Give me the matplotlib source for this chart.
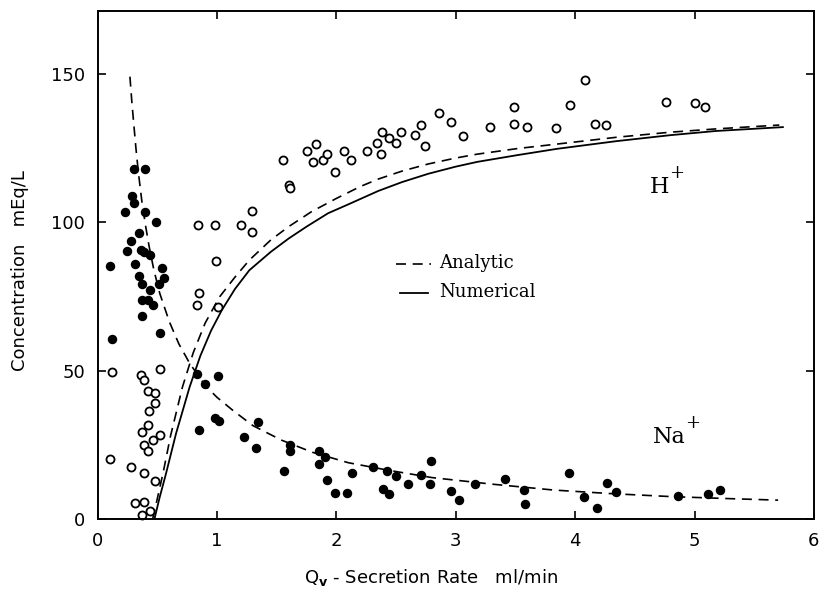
import matplotlib
matplotlib.use("Agg")
import matplotlib.pyplot as plt

# open circles, H+
h_x = [0.117, 0.364, 0.39, 0.52, 0.425, 0.48, 0.48, 0.43, 0.42, 0.37, 0.46, 0.52, 0.386, 0.42,
       0.10, 0.28, 0.386, 0.48, 0.31, 0.386, 0.37, 0.44,
       0.836, 0.85, 1.01, 0.99, 0.84, 0.98, 1.20, 1.29, 1.29, 1.55, 1.60, 1.61,
       1.75, 1.825, 1.80, 1.89, 1.92, 1.99, 2.06, 2.12, 2.26, 2.34, 2.375, 2.38, 2.44, 2.50,
       2.54, 2.66, 2.71, 2.74, 2.86, 2.96, 3.06, 3.29, 3.49, 3.49, 3.60, 3.84, 3.96, 4.08,
       4.17, 4.26, 4.76, 5.00, 5.09]
h_y = [49.6, 48.4, 46.7, 50.4, 43.2, 42.5, 39.2, 36.4, 31.8, 29.3, 26.7, 28.2, 25.0, 23.1,
       20.4, 17.5, 15.7, 12.7, 5.5, 5.7, 1.5, 2.6,
       72.0, 76.0, 71.4, 86.8, 99.2, 99.2, 99.1, 103.6, 96.6, 120.9, 112.5, 111.5,
       123.8, 126.3, 120.2, 120.9, 123.0, 116.8, 123.9, 120.9, 123.9, 126.5, 122.9, 130.3, 128.4, 126.7,
       130.5, 129.5, 132.6, 125.6, 136.6, 133.6, 128.9, 132.1, 138.7, 133.2, 131.9, 131.8, 139.6, 147.7,
       132.9, 132.8, 140.4, 140.2, 138.8]

# filled circles, Na+
na_x = [0.30, 0.40, 0.29, 0.30, 0.23, 0.40, 0.49, 0.35, 0.275, 0.244, 0.36, 0.386, 0.44, 0.10,
        0.31, 0.54, 0.35, 0.555, 0.37, 0.51, 0.44, 0.37, 0.425, 0.46, 0.37, 0.52, 0.117,
        0.836, 1.005, 0.90, 0.98, 1.02, 1.34, 1.225, 0.85, 1.33, 1.56, 1.61, 1.61, 1.85, 1.905,
        1.85, 1.92, 1.99, 2.09, 2.13, 2.31, 2.42, 2.50, 2.39, 2.44, 2.60, 2.71, 2.79, 2.78, 2.96,
        3.03, 3.16, 3.41, 3.57, 3.58, 3.95, 4.07, 4.18, 4.27, 4.34, 4.86, 5.11, 5.21]
na_y = [117.8, 117.8, 108.7, 106.3, 103.5, 103.5, 100.0, 96.4, 93.6, 90.3, 90.6, 90.0, 88.8, 85.2,
        86.0, 84.5, 81.8, 81.1, 79.3, 79.1, 77.2, 73.8, 73.8, 72.2, 68.5, 62.7, 60.6,
        49.0, 48.1, 45.6, 34.2, 33.1, 32.8, 27.8, 29.9, 24.0, 16.1, 25.0, 22.9, 22.8, 21.0,
        18.5, 13.2, 8.8, 8.8, 15.6, 17.7, 16.1, 14.4, 10.0, 8.5, 12.0, 14.9, 19.5, 11.9, 9.5,
        6.4, 11.7, 13.6, 9.8, 5.2, 15.4, 7.6, 3.8, 12.2, 9.1, 7.7, 8.4, 9.7]

# curves
na_an_x = [0.27, 0.285, 0.30, 0.32, 0.34, 0.37, 0.40, 0.43, 0.47, 0.52, 0.60, 0.68, 0.77, 0.90,
           1.0, 1.13, 1.3, 1.54, 1.8, 2.1, 2.43, 2.8, 3.3, 3.82, 4.3, 4.8, 5.3, 5.7]
na_an_y = [149, 141, 134, 125, 117, 107, 99, 92, 84, 76, 66.5, 59, 52.5, 45,
           41, 36.7, 31.5, 26.6, 22.5, 19, 16.5, 14, 11.8, 9.8, 8.6, 7.6, 6.9, 6.4]

h_an_x = [0.46, 0.50, 0.55, 0.61, 0.71, 0.80, 0.90, 1.02, 1.15, 1.27, 1.45, 1.60, 1.79, 2.0,
          2.2, 2.35, 2.55, 2.77, 3.0, 3.18, 3.52, 3.85, 4.35, 4.8, 5.18, 5.71]
h_an_y = [0, 7, 16, 28, 44.5, 56, 66, 74.8, 81.5, 87.2, 94, 98.5, 103.5, 108,
          112, 114.5, 117.2, 119.6, 121.6, 122.9, 124.8, 126.3, 128.6, 130.3, 131.4, 132.7]

h_num_x = [0.475, 0.52, 0.57, 0.656, 0.77, 0.86, 0.95, 1.04, 1.15, 1.27, 1.45, 1.60, 1.75, 1.93,
           2.1, 2.35, 2.55, 2.77, 3.0, 3.18, 3.52, 3.85, 4.35, 4.8, 5.18, 5.74]
h_num_y = [0, 7.5, 15, 28.8, 44.5, 55, 63.5, 70.4, 77.5, 83.8, 90, 94.5, 98.5, 103,
           106, 110.5, 113.5, 116.3, 118.7, 120.3, 122.6, 124.7, 127.3, 129.3, 130.7, 132]

xticks = [0, 1, 2, 3, 4, 5, 6]
yticks = [0, 50, 100, 150]

plt.rcParams["font.family"] = "DejaVu Sans"

fig = plt.figure(figsize=(8.28, 5.94), dpi=100)
ax = fig.add_axes([0.118, 0.126, 0.865, 0.855])

ax.plot(na_an_x, na_an_y, color="black", lw=1.2, ls=(0, (6, 4)))
ax.plot(h_an_x, h_an_y, color="black", lw=1.2, ls=(0, (6, 4)))
ax.plot(h_num_x, h_num_y, color="black", lw=1.3)

ax.plot(h_x, h_y, "o", ms=5.8, mfc="white", mec="black", mew=1.3, clip_on=False)
ax.plot(na_x, na_y, "o", ms=5.8, mfc="black", mec="black", clip_on=False)

# legend drawn by hand
ax.plot([2.50, 2.79], [85.9, 85.9], color="black", lw=1.2, ls=(0, (6, 4)))
ax.plot([2.53, 2.77], [76.1, 76.1], color="black", lw=1.3)
ax.text(2.86, 86.3, "Analytic", family="DejaVu Serif", fontsize=13, va="center")
ax.text(2.86, 76.4, "Numerical", family="DejaVu Serif", fontsize=13, va="center")

ax.text(4.71, 112, "H", family="DejaVu Serif", fontsize=16, ha="center", va="center")
ax.text(4.85, 116.5, "+", family="DejaVu Serif", fontsize=13, ha="center", va="center")
ax.text(4.79, 27.7, "Na", family="DejaVu Serif", fontsize=16, ha="center", va="center")
ax.text(4.98, 32.4, "+", family="DejaVu Serif", fontsize=13, ha="center", va="center")

ax.set_xlim(0, 6)
ax.set_ylim(0, 171)
ax.set_xticks(xticks)
ax.set_yticks(yticks)
ax.tick_params(direction="in", length=6, width=1.2, labelsize=13, top=True, right=True)
ax.tick_params(axis="x", pad=9)
ax.tick_params(axis="y", pad=9)
for s in ax.spines.values():
    s.set_linewidth(1.4)

ax.set_xlabel(r"Q$_\mathbf{v}$ - Secretion Rate   ml/min", fontsize=13)
ax.xaxis.set_label_coords(0.465, -0.095)
ax.set_ylabel("Concentration   mEq/L", fontsize=13)
ax.yaxis.set_label_coords(-0.096, 0.49)

fig.savefig("out.png", dpi=100)
